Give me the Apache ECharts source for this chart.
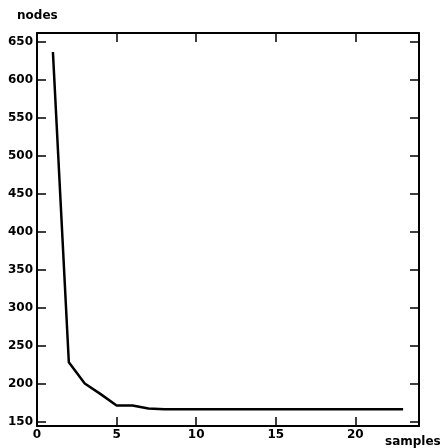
<!DOCTYPE html>
<html><head><meta charset="utf-8">
<script src="https://cdn.jsdelivr.net/npm/echarts@6/dist/echarts.min.js"></script>
<style>html,body{margin:0;padding:0;background:#fff}#c{width:445px;height:448px}</style>
</head><body><div id="c"></div>
<script>
const samples = [1,2,3,4,5,6,7,8,9,10,11,12,13,14,15,16,17,18,19,20,21,22,23];
const nodes = [637,228,200,186,171,171,167,166,166,166,166,166,166,166,166,166,166,166,166,166,166,166,166];
const xTicks = [0,5,10,15,20];
const yTicks = [150,200,250,300,350,400,450,500,550,600,650];
const xTitle = 'samples';
const yTitle = 'nodes';

const font = {fontFamily:'DejaVu Sans', fontWeight:'bold', fontSize:12, color:'#000'};
const axisLine = {show:true, onZero:false, lineStyle:{color:'#000', width:2}};
function tick(vals){return {show:true, inside:true, length:9, lineStyle:{color:'#000', width:1.5}, customValues:vals};}

const chart = echarts.init(document.getElementById('c'), null, {renderer:'canvas'});
chart.setOption({
  animation:false,
  grid:{left:37, right:26, top:33, bottom:22, containLabel:false},
  xAxis:[
    {type:'value', min:0, max:24, position:'bottom', axisLine:axisLine, splitLine:{show:false},
     axisTick:tick(xTicks), axisLabel:Object.assign({margin:3, customValues:xTicks}, font)},
    {type:'value', min:0, max:24, position:'top', axisLine:axisLine, splitLine:{show:false},
     axisTick:tick(xTicks), axisLabel:{show:false}}
  ],
  yAxis:[
    {type:'value', min:144, max:662, position:'left', axisLine:axisLine, splitLine:{show:false},
     axisTick:tick(yTicks), axisLabel:Object.assign({margin:4, customValues:yTicks}, font)},
    {type:'value', min:144, max:662, position:'right', axisLine:axisLine, splitLine:{show:false},
     axisTick:tick(yTicks), axisLabel:{show:false}}
  ],
  graphic:[
    {type:'text', left:17, top:10, style:{text:yTitle, font:'bold 12px "DejaVu Sans"', fill:'#000'}},
    {type:'text', left:385, top:436, style:{text:xTitle, font:'bold 12px "DejaVu Sans"', fill:'#000'}}
  ],
  series:[{
    type:'line', data:samples.map((s,i)=>[s,nodes[i]]), showSymbol:false,
    lineStyle:{color:'#000', width:2.5}, xAxisIndex:0, yAxisIndex:0
  }]
});
</script></body></html>
